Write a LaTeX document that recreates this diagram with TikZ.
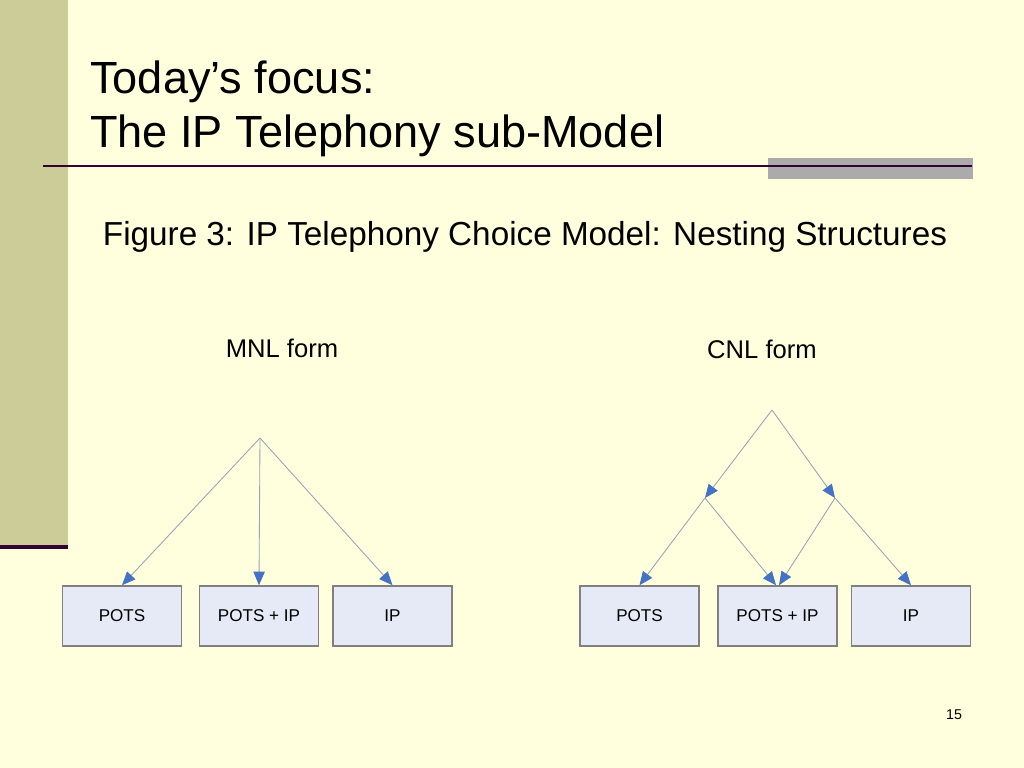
\documentclass[tikz,border=0pt]{standalone}
\usepackage{fontspec}
\setmainfont{Liberation Sans}
\usetikzlibrary{arrows.meta}
\definecolor{bgyellow}{HTML}{FFFFDD}
\definecolor{sidebar}{HTML}{CCCC99}
\definecolor{darkrule}{HTML}{330033}
\definecolor{grayband}{HTML}{ABABAB}
\definecolor{boxfill}{HTML}{E6EAF6}
\definecolor{boxline}{HTML}{808080}
\definecolor{linkgray}{HTML}{98A2B8}
\definecolor{tipblue}{HTML}{4472C4}
\tikzset{
  altbox/.style={draw=boxline, line width=1.1pt, fill=boxfill, minimum width=119\px, minimum height=60\px, inner sep=0pt, font=\fontsize{12}{14}\selectfont},
  link/.style={draw=linkgray, line width=0.6pt, -{Triangle[length=9.5pt,width=8pt,color=tipblue,fill=tipblue]}},
  formlabel/.style={font=\fontsize{18}{21}\selectfont, anchor=base, inner sep=0pt},
}
\newlength{\px}
\setlength{\px}{0.703125pt}
\begin{document}
\begin{tikzpicture}[x=0.703125pt, y=-0.703125pt]
\useasboundingbox (0,0) rectangle (1024,768);
\fill[bgyellow] (0,0) rectangle (1024,768);
\fill[sidebar] (0,0) rectangle (68,547);
\fill[darkrule] (0,545) rectangle (68,549);
\fill[grayband] (768,158) rectangle (973,179);
\draw[darkrule, line width=1.5pt] (43,166) -- (972,166);
% title
\node[anchor=base west, inner sep=0pt, font=\fontsize{31.7}{38}\selectfont] (t1) at (90,94) {Today’s focus:};
\node[anchor=base west, inner sep=0pt, font=\fontsize{31.7}{38}\selectfont] (t2) at (90,148) {The IP Telephony sub-Model};
\node[anchor=base, inner sep=0pt, font=\fontsize{23.4}{28}\selectfont] (cap) at (525,246) {Figure 3: IP Telephony Choice Model: Nesting Structures};
\node[formlabel] (mnl) at (282,357) {MNL form};
\node[formlabel] (cnl) at (762,358) {CNL form};
% left boxes
\node[altbox] (lpots) at (122,616) {POTS};
\node[altbox] (lboth) at (259,616) {POTS + IP};
\node[altbox] (lip) at (392.5,616) {IP};
\coordinate (lroot) at (260,438);
\draw[link] (lroot) -- (lpots.north);
\draw[link] (lroot) -- (lboth.north);
\draw[link] (lroot) -- (lip.north);
% right boxes
\node[altbox] (rpots) at (639.5,616) {POTS};
\node[altbox] (rboth) at (777.5,616) {POTS + IP};
\node[altbox] (rip) at (911,616) {IP};
\coordinate (rroot) at (772,410);
\coordinate (rnestA) at (705,498);
\coordinate (rnestB) at (835,498);
\draw[link] (rroot) -- (rnestA);
\draw[link] (rroot) -- (rnestB);
\draw[link] (rnestA) -- (rpots.north);
\draw[link] (rnestA) -- ([xshift=-1.5\px]rboth.north);
\draw[link] (rnestB) -- ([xshift=1.5\px]rboth.north);
\draw[link] (rnestB) -- (rip.north);
\node[anchor=base, inner sep=0pt, font=\fontsize{10}{12}\selectfont] (pg) at (954,719) {15};
\end{tikzpicture}
\end{document}
